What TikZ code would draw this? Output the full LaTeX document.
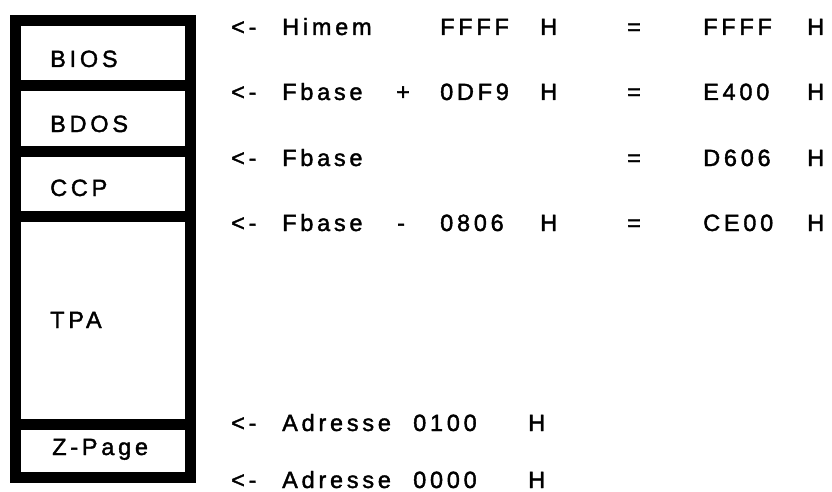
\documentclass[tikz,border=0pt]{standalone}
\usepackage{fontspec}
\setmainfont{Liberation Sans}[LetterSpace=16,FakeBold=1.6]
\begin{document}
\begin{tikzpicture}[x=1pt,y=-1pt,
  cell/.style={draw=black, line width=11pt, minimum width=175pt, inner sep=0pt},
  lbl/.style={anchor=base west, inner sep=0pt, font=\fontsize{23.5}{24}\selectfont, text=black},
]
\useasboundingbox[fill=white] (0,0) rectangle (832,492);
% memory map column
\node[cell, minimum height=65pt]  (bios)  at (102.5,53.5)  {};
\node[cell, minimum height=65pt]  (bdos)  at (102.5,118.5) {};
\node[cell, minimum height=65pt]  (ccp)   at (102.5,183.5) {};
\node[cell, minimum height=208pt] (tpa)   at (102.5,320)   {};
\node[cell, minimum height=53pt]  (zpage) at (102.5,450.5) {};
\node[lbl] (tbios)  at (50,67)  {BIOS};
\node[lbl] (tbdos)  at (50,132) {BDOS};
\node[lbl] (tccp)   at (50,196) {CCP};
\node[lbl] (ttpa)   at (50,328) {TPA};
\node[lbl] (tzpage) at (52,455) {Z-Page};
% row 1
\node[lbl] (a1) at (231,35) {<-};
\node[lbl] (b1) at (282,35) {Himem};
\node[lbl] (c1) at (440,35) {FFFF};
\node[lbl] (d1) at (540,35) {H};
\node[lbl] (e1) at (627,35) {=};
\node[lbl] (f1) at (703,35) {FFFF};
\node[lbl] (g1) at (807,35) {H};
% row 2
\node[lbl] (a2) at (231,100) {<-};
\node[lbl] (b2) at (282,100) {Fbase};
\node[lbl] (p2) at (396,100) {+};
\node[lbl] (c2) at (440,100) {0DF9};
\node[lbl] (d2) at (540,100) {H};
\node[lbl] (e2) at (627,100) {=};
\node[lbl] (f2) at (703,100) {E400};
\node[lbl] (g2) at (807,100) {H};
% row 3
\node[lbl] (a3) at (231,166) {<-};
\node[lbl] (b3) at (282,166) {Fbase};
\node[lbl] (e3) at (627,166) {=};
\node[lbl] (f3) at (703,166) {D606};
\node[lbl] (g3) at (807,166) {H};
% row 4
\node[lbl] (a4) at (231,231) {<-};
\node[lbl] (b4) at (282,231) {Fbase};
\node[lbl] (p4) at (397,231) {-};
\node[lbl] (c4) at (440,231) {0806};
\node[lbl] (d4) at (540,231) {H};
\node[lbl] (e4) at (627,231) {=};
\node[lbl] (f4) at (703,231) {CE00};
\node[lbl] (g4) at (807,231) {H};
% row 5
\node[lbl] (a5) at (231,431) {<-};
\node[lbl] (b5) at (282,431) {Adresse};
\node[lbl] (c5) at (413,431) {0100};
\node[lbl] (d5) at (528,431) {H};
% row 6
\node[lbl] (a6) at (231,488) {<-};
\node[lbl] (b6) at (282,488) {Adresse};
\node[lbl] (c6) at (413,488) {0000};
\node[lbl] (d6) at (528,488) {H};
\end{tikzpicture}
\end{document}
